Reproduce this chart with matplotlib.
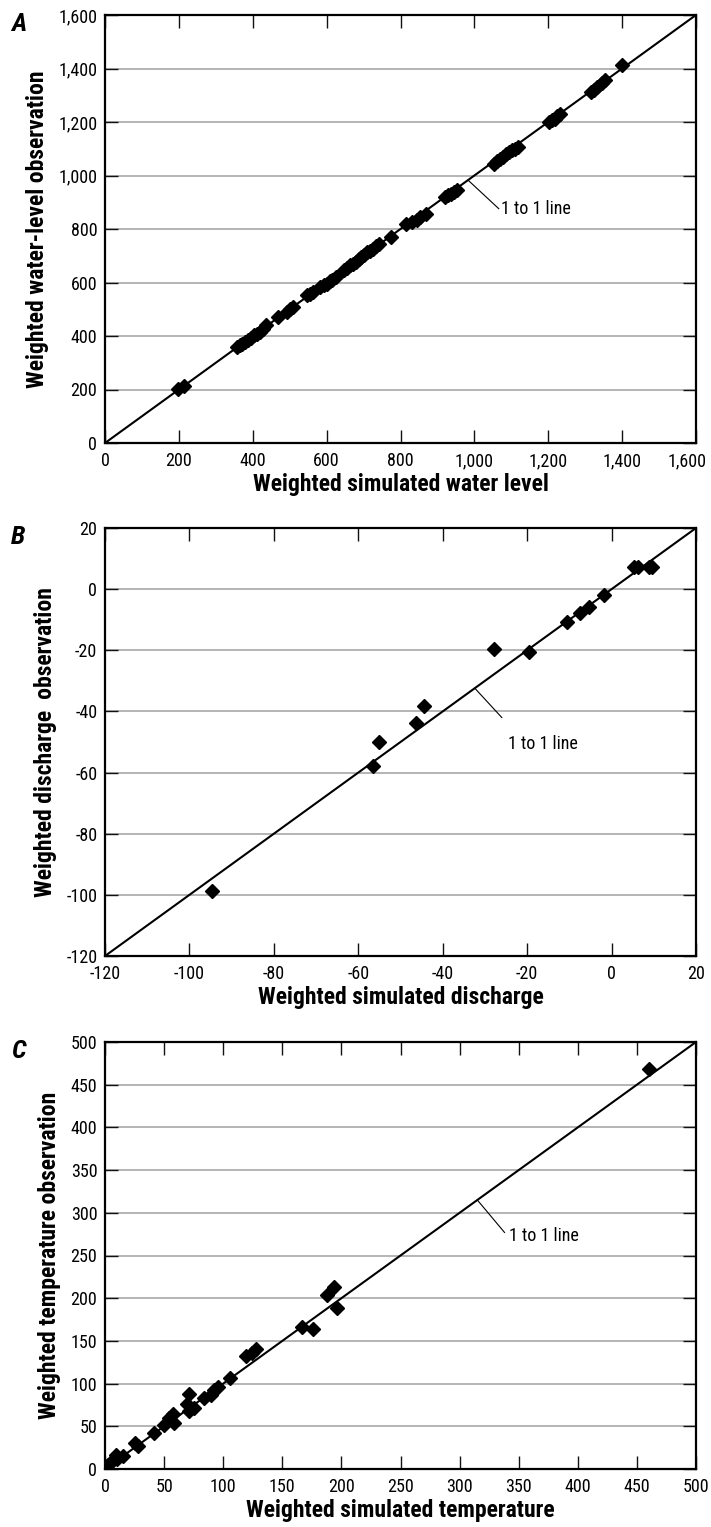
import matplotlib
matplotlib.use("Agg")
import matplotlib.pyplot as plt
from matplotlib.ticker import FuncFormatter, MultipleLocator
from matplotlib.transforms import ScaledTranslation

plt.rcParams['font.family'] = ['Roboto Condensed', 'Archivo Narrow',
                               'PT Sans Narrow', 'DejaVu Sans']
plt.rcParams['axes.unicode_minus'] = False

# Panel A: weighted water levels
wl_sim = [198, 214, 357, 365, 372, 380, 388, 396, 404, 412, 420, 428, 436,
          468, 494, 502, 510, 547, 556, 563, 583, 592, 600, 608, 615, 626,
          647, 655, 663, 672, 679, 687, 694, 702, 710, 718, 726, 734, 742,
          774, 816, 832, 845, 853, 868, 921, 929, 937, 945, 953, 1053, 1061,
          1069, 1077, 1085, 1093, 1101, 1109, 1117, 1201, 1209, 1217, 1225,
          1233, 1317, 1325, 1333, 1345, 1354, 1400]
wl_obs = [203, 212, 359, 366, 371, 378, 384, 394, 402, 408, 415, 428, 440,
          471, 490, 500, 508, 552, 558, 564, 583, 590, 596, 604, 608, 620,
          645, 655, 664, 670, 677, 687, 695, 704, 714, 718, 726, 736, 745,
          770, 820, 826, 835, 845, 857, 920, 926, 932, 940, 945, 1044, 1055,
          1063, 1070, 1079, 1086, 1094, 1100, 1107, 1200, 1206, 1212, 1222,
          1231, 1312, 1320, 1331, 1344, 1356, 1414]

# Panel B: weighted discharges
q_sim = [-94.7, -56.4, -55.2, -46.3, -44.4, -27.8, -19.5, -10.6, -7.4, -5.4,
         -1.8, 5.3, 6.3, 8.8, 9.5]
q_obs = [-98.7, -57.9, -49.9, -43.8, -38.3, -19.7, -20.5, -10.7, -7.7, -6.0,
         -1.9, 7.4, 7.4, 7.4, 7.4]

# Panel C: weighted temperatures
t_sim = [460.5, 193.8, 187.6, 196.4, 166.8, 175.9, 119.7, 124.0, 127.6,
         106.0, 96.0, 92.0, 90.0, 83.6, 71.4, 69.0, 75.7, 71.4, 57.3, 54.0,
         58.2, 50.0, 41.8, 25.3, 27.6, 15.5, 8.9, 6.6, 2.3, 10.5]
t_obs = [468.0, 213.0, 204.0, 188.0, 166.0, 163.5, 132.0, 136.0, 140.6,
         106.7, 95.8, 93.0, 87.0, 83.0, 88.0, 76.0, 71.6, 67.8, 64.6, 60.0,
         54.0, 51.4, 42.4, 30.8, 26.9, 15.2, 16.0, 10.0, 4.7, 11.3]


def thousands(v, _pos):
    return f"{int(round(v)):,}"


W, H = 711, 1527
fig = plt.figure(figsize=(W / 100, H / 100), dpi=100)


def panel(rect, xs, ys, lim, step, xlabel, ylabel, letter,
          lead_from, lead_to, text_at, fmt=None, nudge_last=0):
    left, top, right, bottom = rect
    ax = fig.add_axes([left / W, 1 - bottom / H, (right - left) / W,
                       (bottom - top) / H])
    lo, hi = lim
    ax.set_xlim(lo, hi)
    ax.set_ylim(lo, hi)
    ax.xaxis.set_major_locator(MultipleLocator(step))
    ax.yaxis.set_major_locator(MultipleLocator(step))
    if fmt is not None:
        ax.xaxis.set_major_formatter(FuncFormatter(fmt))
        ax.yaxis.set_major_formatter(FuncFormatter(fmt))
    ax.grid(axis='y', color='#a0a0a0', lw=1.1)
    ax.set_axisbelow(True)
    ax.tick_params(direction='in', length=9.5, width=1.0, top=True,
                   right=True, labelsize=13, color='#111111')
    ax.tick_params(axis='x', pad=6.5)
    ax.tick_params(axis='y', pad=5.5)
    for s in ax.spines.values():
        s.set_linewidth(1.6)
    ax.plot([lo, hi], [lo, hi], color='black', lw=1.5, zorder=2)
    ax.plot(xs, ys, linestyle='none', marker='D', ms=7, color='black',
            zorder=3)
    ax.plot([lead_from[0], lead_to[0]], [lead_from[1], lead_to[1]],
            color='black', lw=0.8, zorder=2)
    ax.text(text_at[0], text_at[1], '1 to 1 line', fontsize=13,
            ha='left', va='center')
    ax.set_xlabel(xlabel, fontsize=17, fontweight='bold', labelpad=2)
    ax.set_ylabel(ylabel, fontsize=17, fontweight='bold', labelpad=7)
    if nudge_last:
        fig.canvas.draw()
        shift = ScaledTranslation(nudge_last / 100, 0, fig.dpi_scale_trans)
        for tick in ax.xaxis.get_major_ticks():
            if abs(tick.get_loc() - hi) < 1e-6:
                tick.label1.set_transform(tick.label1.get_transform() + shift)
    fig.text(11 / W, 1 - (top - 3) / H, letter, fontsize=19,
             fontweight='bold', fontstyle='italic', ha='left', va='top')
    return ax


panel((105, 15, 696, 443), wl_sim, wl_obs, (0, 1600), 200,
      'Weighted simulated water level', 'Weighted water-level observation',
      'A', (985, 980), (1066, 876), (1072, 876), fmt=thousands,
      nudge_last=-9)

panel((105, 528, 696, 956), q_sim, q_obs, (-120, 20), 20,
      'Weighted simulated discharge', 'Weighted discharge  observation',
      'B', (-32.4, -32.4), (-26.0, -42.0), (-24.6, -50.6))

panel((105, 1042, 696, 1469), t_sim, t_obs, (0, 500), 50,
      'Weighted simulated temperature', 'Weighted temperature observation',
      'C', (315, 315), (338, 277), (342, 273))

fig.savefig('out.png', dpi=100)
